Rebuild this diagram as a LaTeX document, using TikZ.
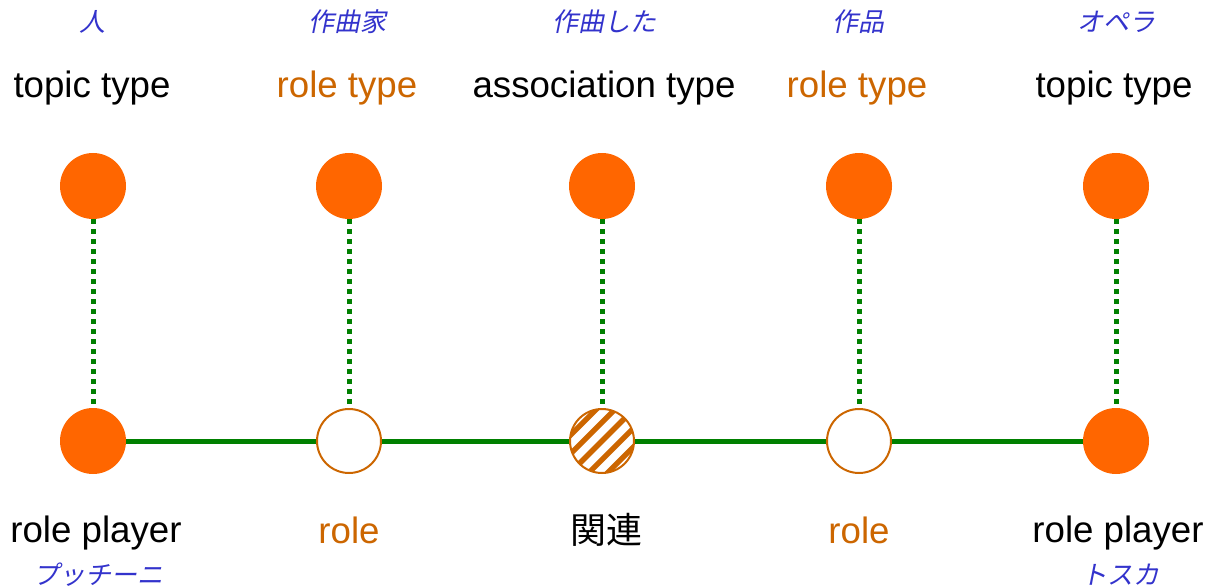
\documentclass[tikz,border=0pt]{standalone}
\usepackage{fontspec}
\setmainfont{Liberation Sans}
\newfontfamily\jpfont{Noto Sans CJK JP}
\newfontfamily\jpslant{Noto Sans CJK JP}[FakeSlant=0.2]
\definecolor{topicorange}{RGB}{255,102,0}
\definecolor{roleorange}{RGB}{204,102,0}
\definecolor{jpblue}{RGB}{51,51,204}
\definecolor{linkgreen}{RGB}{0,128,0}
\begin{document}
\begin{tikzpicture}[x=0.75pt, y=-0.75pt]
        \tikzset{
            topic/.style  = {circle, fill=topicorange, minimum size=49.5pt, inner sep=0pt},
            role/.style   = {circle, draw=roleorange, line width=1.5pt, fill=white, minimum size=48pt, inner sep=0pt},
            assoc/.style  = {role, path picture={
                \foreach \k in {-4,...,4}
                    \draw[roleorange, line width=4pt]
                        ([shift={(\k*14pt-30pt,-30pt)}]path picture bounding box.center) -- ++(60pt,60pt);
            }},
            label/.style  = {font=\fontsize{27.5}{32}\selectfont, inner sep=0pt},
            gloss/.style  = {font=\jpslant\fontsize{19.5}{22}\selectfont, text=jpblue, inner sep=0pt},
            typeof/.style = {linkgreen, line width=3.75pt, dash pattern=on 3.75pt off 3.75pt},
            link/.style   = {linkgreen, line width=3.75pt}
        }
        \useasboundingbox (0,0) rectangle (1209,588);

        % types
        \node[topic] (T1) at (93,186) {};
        \node[topic] (T2) at (349,186) {};
        \node[topic] (T3) at (602,186) {};
        \node[topic] (T4) at (859,186) {};
        \node[topic] (T5) at (1116,186) {};

        % instances
        \coordinate (B1c) at (93,441);
        \node[role]  (B2) at (349,441) {};
        \node[assoc] (B3) at (602,441) {};
        \node[role]  (B4) at (859,441) {};
        \coordinate (B5c) at (1116,441);

        \draw[link] (B1c) -- (B2);
        \draw[link] (B2) -- (B3);
        \draw[link] (B3) -- (B4);
        \draw[link] (B4) -- (B5c);
        \node[topic] (B1) at (B1c) {};
        \node[topic] (B5) at (B5c) {};

        \foreach \i in {1,...,5}
            \draw[typeof] (T\i) -- (B\i);

        % labels above
        \node[label] (L1) at (92,88) {topic type};
        \node[label, text=roleorange] (L2) at (347,88) {role type};
        \node[label] (L3) at (604,88) {association type};
        \node[label, text=roleorange] (L4) at (857,88) {role type};
        \node[label] (L5) at (1114,88) {topic type};

        \node[gloss] (G1) at (92,22) {人};
        \node[gloss] (G2) at (347,22) {作曲家};
        \node[gloss] (G3) at (604,22) {作曲した};
        \node[gloss] (G4) at (858,22) {作品};
        \node[gloss] (G5) at (1116,22) {オペラ};

        % labels below
        \node[label] (R1) at (96,533) {role player};
        \node[label, text=roleorange] (R2) at (349,530) {role};
        \node[label, font=\jpfont\fontsize{27}{32}\selectfont] (R3) at (606,530) {関連};
        \node[label, text=roleorange] (R4) at (859,530) {role};
        \node[label] (R5) at (1118,533) {role player};

        \node[gloss] (P1) at (98,575) {プッチーニ};
        \node[gloss] (P5) at (1120,575) {トスカ};
    \end{tikzpicture}
\end{document}
